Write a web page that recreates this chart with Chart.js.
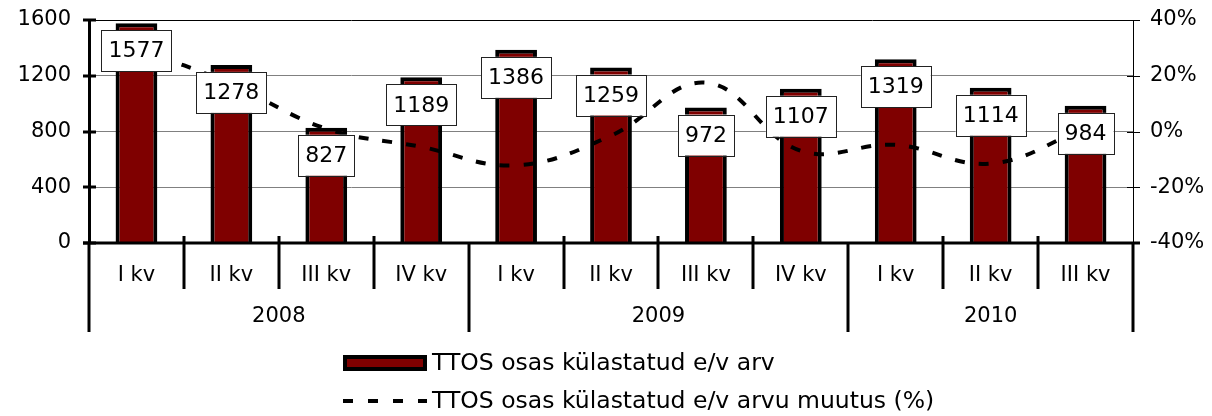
<!DOCTYPE html>
<html>
<head>
<meta charset="utf-8">
<script src="https://cdn.jsdelivr.net/npm/chart.js@4.4.1/dist/chart.umd.min.js"></script>
<style>
html,body{margin:0;padding:0;background:#fff;}
canvas{display:block;}
</style>
</head>
<body>
<canvas id="c" width="1212" height="416"></canvas>
<script>
const quarters = ['I kv','II kv','III kv','IV kv','I kv','II kv','III kv','IV kv','I kv','II kv','III kv'];
const years = ['2008','2009','2010'];
const yearSpans = [4, 4, 3];
const visitors = [1577, 1278, 827, 1189, 1386, 1259, 972, 1107, 1319, 1114, 984];
const changePct = [30, 17, 1, -5.5, -12.1, -1.5, 17.5, -6.9, -4.8, -11.5, 1.2];
const seriesNames = ['TTOS osas külastatud e/v arv', 'TTOS osas külastatud e/v arvu muutus (%)'];

const FONT = "'DejaVu Sans', Verdana, sans-serif";
const BAR_RED = '#7f0000';

const decorPlugin = {
  id: 'decor',
  afterDatasetsDraw(chart) {
    const ctx = chart.ctx;
    const meta = chart.getDatasetMeta(0);
    ctx.save();
    ctx.font = '22px ' + FONT;
    ctx.textAlign = 'center';
    ctx.textBaseline = 'middle';
    meta.data.forEach((bar, i) => {
      const txt = String(visitors[i]);
      const w = ctx.measureText(txt).width + 14;
      const h = 41;
      const top = bar.y + 7;
      const left = bar.x - w / 2;
      ctx.fillStyle = '#fff';
      ctx.fillRect(left, top, w, h);
      ctx.strokeStyle = '#222';
      ctx.lineWidth = 1;
      ctx.strokeRect(Math.round(left) + 0.5, Math.round(top) + 0.5, Math.round(w), h);
      ctx.fillStyle = '#000';
      ctx.fillText(txt, bar.x, top + h / 2 + 1);
    });
    ctx.restore();
  },
  afterDraw(chart) {
    const ctx = chart.ctx;
    const ca = chart.chartArea;
    const x = chart.scales.x;
    const y = chart.scales.y;
    const y1 = chart.scales.y1;
    ctx.save();
    ctx.strokeStyle = '#000';
    ctx.lineCap = 'butt';
    ctx.lineWidth = 3;
    y.ticks.forEach(t => {
      const py = Math.round(y.getPixelForValue(t.value));
      ctx.beginPath(); ctx.moveTo(ca.left - 6, py); ctx.lineTo(ca.left + 7, py); ctx.stroke();
    });
    ctx.lineWidth = 1;
    y1.ticks.forEach(t => {
      const py = Math.round(y1.getPixelForValue(t.value)) + 0.5;
      ctx.beginPath(); ctx.moveTo(ca.right - 6, py); ctx.lineTo(ca.right + 7, py); ctx.stroke();
    });
    ctx.lineWidth = 3;
    const by = Math.round(ca.bottom);
    ctx.beginPath(); ctx.moveTo(ca.left - 6, by); ctx.lineTo(ca.right + 7, by); ctx.stroke();
    const n = quarters.length;
    const step = x.getPixelForValue(1) - x.getPixelForValue(0);
    const yearBounds = [];
    let acc = 0;
    yearSpans.forEach(s => { acc += s; yearBounds.push(acc); });
    for (let i = 0; i <= n; i++) {
      const px = Math.round(x.getPixelForValue(i) - step / 2);
      const isYear = i === 0 || i === n || yearBounds.includes(i);
      ctx.beginPath();
      if (isYear) { ctx.moveTo(px, by); ctx.lineTo(px, by + 89); }
      else { ctx.moveTo(px, by - 7); ctx.lineTo(px, by + 46); }
      ctx.stroke();
    }
    ctx.fillStyle = '#000';
    ctx.font = '21px ' + FONT;
    ctx.textAlign = 'center';
    ctx.textBaseline = 'middle';
    quarters.forEach((q, i) => ctx.fillText(q, x.getPixelForValue(i), by + 33));
    let start = 0;
    years.forEach((yr, k) => {
      const end = start + yearSpans[k] - 1;
      const cx = (x.getPixelForValue(start) + x.getPixelForValue(end)) / 2;
      ctx.fillText(yr, cx, by + 74);
      start += yearSpans[k];
    });
    // legend
    ctx.textAlign = 'left';
    ctx.font = '23.5px ' + FONT;
    const lx = 343, lw = 84;
    const r1 = 363, r2 = 401;
    ctx.fillStyle = '#000';
    ctx.fillRect(lx, r1 - 8, lw, 16);
    ctx.fillStyle = BAR_RED;
    ctx.fillRect(lx + 4, r1 - 4, lw - 8, 8);
    ctx.strokeStyle = '#000';
    ctx.lineWidth = 4;
    ctx.setLineDash([10, 15]);
    ctx.beginPath(); ctx.moveTo(lx, r2); ctx.lineTo(lx + lw, r2); ctx.stroke();
    ctx.setLineDash([]);
    ctx.fillStyle = '#000';
    ctx.fillText(seriesNames[0], lx + lw + 5, r1 + 1);
    ctx.fillText(seriesNames[1], lx + lw + 5, r2 + 1);
    ctx.restore();
  }
};

const fitSide = w => s => { s.width = w; s.paddingTop = 0; s.paddingBottom = 0; };

new Chart(document.getElementById('c'), {
  data: {
    labels: quarters,
    datasets: [
      {
        type: 'bar',
        label: seriesNames[0],
        data: visitors,
        yAxisID: 'y',
        backgroundColor: BAR_RED,
        borderColor: '#000',
        borderWidth: 4,
        borderSkipped: 'bottom',
        categoryPercentage: 1,
        barPercentage: 0.44,
        order: 2
      },
      {
        type: 'line',
        label: seriesNames[1],
        data: changePct,
        yAxisID: 'y1',
        borderColor: '#000',
        borderWidth: 4,
        borderDash: [10, 14],
        borderCapStyle: 'butt',
        pointRadius: 0,
        tension: 0.4,
        fill: false,
        order: 1
      }
    ]
  },
  options: {
    responsive: false,
    animation: false,
    layout: { padding: { top: 20, bottom: 173, left: 0, right: 0 } },
    plugins: { legend: { display: false }, tooltip: { enabled: false } },
    scales: {
      x: { type: 'category', display: false, offset: true },
      y: {
        position: 'left',
        min: 0, max: 1600,
        ticks: { stepSize: 400, color: '#000', font: { family: FONT, size: 21 }, padding: 18, callback: v => String(v) },
        grid: {
          drawTicks: false,
          color: c => (c.tick && c.tick.value === 1600) ? '#000' : '#808080',
          lineWidth: 1
        },
        border: { display: true, color: '#000', width: 3 },
        afterFit: fitSide(89)
      },
      y1: {
        position: 'right',
        min: -40, max: 40,
        ticks: { stepSize: 20, color: '#000', font: { family: FONT, size: 21 }, padding: 17, callback: v => v + '%' },
        grid: { drawOnChartArea: false, drawTicks: false },
        border: { display: true, color: '#000', width: 1 },
        afterFit: fitSide(79)
      }
    }
  },
  plugins: [decorPlugin]
});
</script>
</body>
</html>
